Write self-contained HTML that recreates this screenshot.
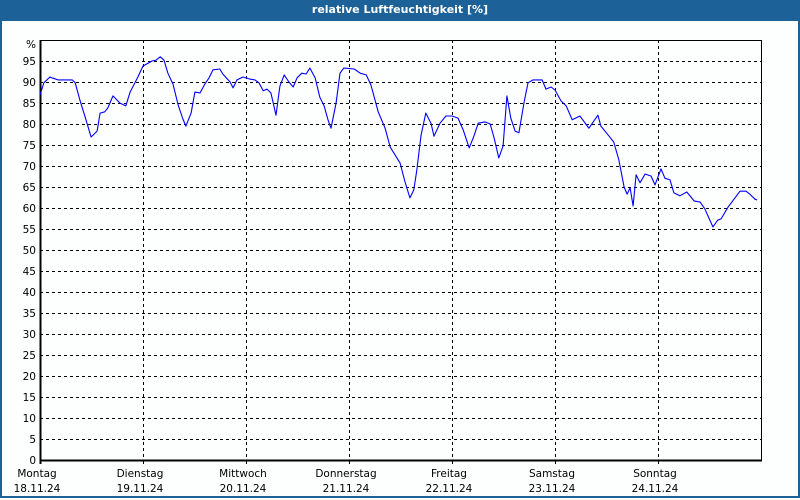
<!DOCTYPE html>
<html><head><meta charset="utf-8"><style>
html,body{margin:0;padding:0;background:#fff;}
#wrap{position:relative;width:800px;height:500px;overflow:hidden;font-family:"DejaVu Sans","Liberation Sans",sans-serif;}
#title{position:absolute;left:0;top:0;width:800px;height:21px;background:#1d6199;color:#fff;font-weight:bold;font-size:11px;line-height:20px;text-align:center;}
#frame{position:absolute;left:0;top:21px;width:796px;height:475px;border:2px solid #1d6199;border-top:none;background:#fdfefe;}
svg{position:absolute;left:0;top:0;}
</style></head><body>
<div id="wrap">
<div id="title">relative Luftfeuchtigkeit [%]</div>
<div id="frame"></div>
<svg id="chart" width="800" height="500"></svg>
</div>
<script>
const dayNames=["Montag","Dienstag","Mittwoch","Donnerstag","Freitag","Samstag","Sonntag"];
const dayDates=["18.11.24","19.11.24","20.11.24","21.11.24","22.11.24","23.11.24","24.11.24"];
const yTicks=[0,5,10,15,20,25,30,35,40,45,50,55,60,65,70,75,80,85,90,95];
const hours=[0,0.9,2.3,3.0,4.2,7.5,8.2,9.3,10.5,11.9,13.3,14.0,15.1,15.8,17.0,18.6,20.0,21.0,22.8,24.0,25.2,26.1,27.0,28.0,28.9,29.8,31.0,32.2,33.3,34.0,35.2,36.1,37.3,38.4,39.4,40.3,41.9,42.6,44.3,45.0,45.9,47.3,48.9,50.1,51.0,52.0,52.9,53.8,55.0,55.9,56.9,58.0,59.0,59.9,61.0,62.0,62.9,64.1,65.2,66.2,67.1,67.8,69.0,69.9,70.8,73.2,74.6,76.0,77.1,78.8,80.4,81.6,83.9,85.0,86.2,87.1,87.8,88.8,89.9,91.1,91.8,93.2,94.6,96.0,97.4,98.6,100.0,101.1,102.1,103.7,104.9,105.8,106.9,107.9,108.8,109.7,110.7,111.6,112.8,113.7,114.9,117.0,117.9,119.1,120.0,121.4,122.6,124.0,125.8,127.9,130.0,130.7,132.6,133.7,134.9,136.1,136.8,137.5,138.2,138.9,139.8,141.0,142.4,143.3,144.7,145.6,146.8,147.7,149.1,150.7,152.4,153.8,154.9,156.8,157.9,158.7,160.3,161.7,163.1,164.5,165.4,166.6,167.1];
const humidity=[86.9,89.8,91.2,90.9,90.5,90.5,89.8,85.7,81.7,76.9,78.3,82.6,82.9,83.8,86.7,85,84.3,87.6,91.2,93.8,94.5,95,95.2,96,95.2,92.1,89.5,84.5,81.2,79.5,82.6,87.6,87.4,89.5,91,92.9,93.1,91.9,90,88.6,90.5,91.2,90.7,90.5,89.8,87.9,88.3,87.4,82.1,89,91.7,90,88.8,91,92.1,91.9,93.3,91,86.4,84.3,81,79,85,92.1,93.3,93.1,92.1,91.7,89.3,82.9,79,74.5,70.7,66.4,62.4,64.3,69,77.4,82.6,80.2,77.1,80.2,81.9,81.9,81.4,78.6,74.3,77.1,80.2,80.5,80,76.7,71.9,74.8,86.7,81.4,78.3,77.9,85.2,89.8,90.5,90.5,88.3,88.8,88.1,85.5,84.3,81,81.9,79,82.1,79.5,77.1,75.7,71.4,65,63.3,64.8,60.5,67.9,66,68.1,67.6,65.5,69.3,67.1,66.7,63.6,62.9,63.8,61.7,61.4,59.8,55.5,57.1,57.4,60.2,62.1,64,64,63.3,62.1,61.9];

const L=40,R=761,T=40,B=460,DAYW=103;
const xScale=h=>L+h/24*DAYW;
const yScale=v=>B-(v/100)*(B-T);
const svg=document.getElementById('chart');
const NS='http://www.w3.org/2000/svg';
function mk(tag,attrs){const e=document.createElementNS(NS,tag);for(const k in attrs)e.setAttribute(k,attrs[k]);svg.appendChild(e);return e;}

// horizontal grid + labels
yTicks.forEach(v=>{
  const y=yScale(v);
  if(v>0){
    const g=mk('line',{x1:L,x2:R,y1:y+0.5,y2:y+0.5,stroke:'#000','stroke-width':1,'stroke-dasharray':'3,3'});
    
    
  }
  const t=mk('text',{x:36,y:y+4,'text-anchor':'end','font-size':'10.5',fill:'#000','font-family':'DejaVu Sans, Liberation Sans, sans-serif'});
  t.textContent=v;
  
  
});
const pct=mk('text',{x:36,y:48,'text-anchor':'end','font-size':'10.5',fill:'#000','font-family':'DejaVu Sans, Liberation Sans, sans-serif'});
pct.textContent='%';



// vertical grid + day labels
dayNames.forEach((d,i)=>{
  const x=Math.round(xScale(i*24));
  if(i>0){
    const g=mk('line',{x1:x+0.5,x2:x+0.5,y1:T,y2:B,stroke:'#000','stroke-width':1,'stroke-dasharray':'3,3'});
    
    
  }
  const tk=mk('line',{x1:x+0.5,x2:x+0.5,y1:B,y2:B+4,stroke:'#000','stroke-width':1});
  
  
  const t1=mk('text',{x:x-3,y:477,'text-anchor':'middle','font-size':'10.5',fill:'#000','font-family':'DejaVu Sans, Liberation Sans, sans-serif'});
  t1.textContent=d;
  
  
  const t2=mk('text',{x:x-3,y:492,'text-anchor':'middle','font-size':'10.5',fill:'#000','font-family':'DejaVu Sans, Liberation Sans, sans-serif'});
  t2.textContent=dayDates[i];
  
  
});

// plot border
const fr=mk('rect',{x:L+0.5,y:T+0.5,width:R-L,height:B-T,fill:'none',stroke:'#000','stroke-width':1});


const xa=mk('line',{x1:L,x2:R+1,y1:B+0.5,y2:B+0.5,stroke:'#000','stroke-width':2});


const ya=mk('line',{x1:L+0.5,x2:L+0.5,y1:T,y2:B+4,stroke:'#000','stroke-width':2});



// series
const pts=hours.map((h,i)=>xScale(h).toFixed(1)+','+yScale(humidity[i]).toFixed(1)).join(' ');
const line=mk('polyline',{points:pts,fill:'none',stroke:'#0000ff','stroke-width':1.1,'stroke-linejoin':'round'});


</script>
</body></html>
